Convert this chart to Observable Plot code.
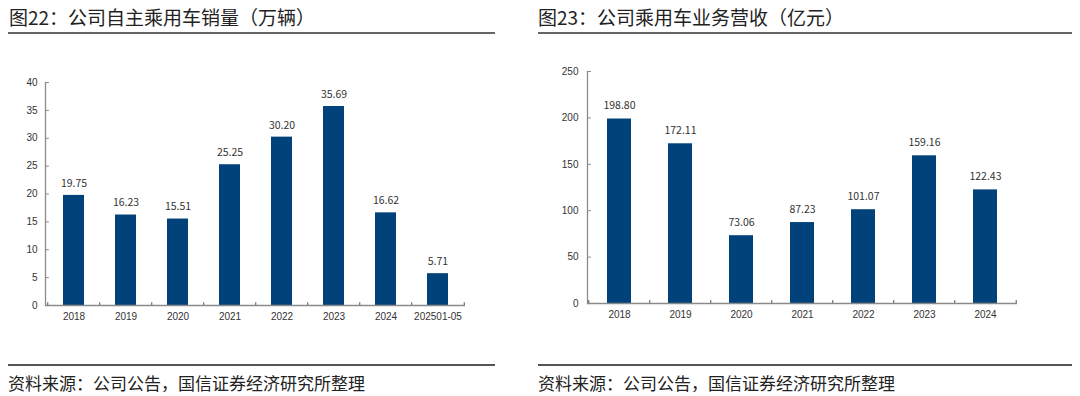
<!DOCTYPE html>
<html><head><meta charset="utf-8">
<script src="https://cdn.jsdelivr.net/npm/d3@7"></script>
<script src="https://cdn.jsdelivr.net/npm/@observablehq/plot@0.6"></script>
<style>
body{margin:0;width:1080px;height:396px;background:#fff;position:relative;overflow:hidden;font-family:"Noto Sans CJK SC",sans-serif;}
.title{position:absolute;top:3px;font-size:19px;color:#222;line-height:28px;white-space:nowrap}
.rule{position:absolute;height:2px;background:#666}
.srule{position:absolute;height:1.5px;background:#555;top:364px}
.src{position:absolute;top:372px;font-size:17px;color:#222;line-height:22px;white-space:nowrap}
.chart{position:absolute;top:40px}
</style></head><body>
<div class="title" style="left:9px">图22：公司自主乘用车销量（万辆）</div>
<div class="rule" style="left:8px;top:32px;width:487px"></div>
<div class="chart" id="c1" style="left:8px"></div>
<div class="srule" style="left:8px;width:487px"></div>
<div class="src" style="left:8px">资料来源：公司公告，国信证券经济研究所整理</div>

<div class="title" style="left:538px">图23：公司乘用车业务营收（亿元）</div>
<div class="rule" style="left:538px;top:32px;width:534px"></div>
<div class="chart" id="c2" style="left:538px"></div>
<div class="srule" style="left:538px;width:534px"></div>
<div class="src" style="left:538px">资料来源：公司公告，国信证券经济研究所整理</div>
<script>
const salesCategories = ["2018","2019","2020","2021","2022","2023","2024","202501-05"];
const salesValues = [19.75,16.23,15.51,25.25,30.20,35.69,16.62,5.71];
const salesTicks = [0,5,10,15,20,25,30,35,40];

const revenueCategories = ["2018","2019","2020","2021","2022","2023","2024"];
const revenueValues = [198.80,172.11,73.06,87.23,101.07,159.16,122.43];
const revenueTicks = [0,50,100,150,200,250];

const BAR = "#02427A";
const AXIS = "#8a8a8a";

function makeChart(cats, vals, ticks, o) {
  const data = cats.map((c, i) => ({cat: c, val: vals[i]}));
  const n = cats.length;
  const step = (o.width - o.ml - o.mr) / n;
  const ymax = ticks[ticks.length - 1];
  const tickShape = {draw(ctx, l) { ctx.moveTo(0, 0); ctx.lineTo(0, -l); }};
  return Plot.plot({
    width: o.width, height: o.height,
    marginLeft: o.ml, marginRight: o.mr, marginTop: o.mt, marginBottom: o.mb,
    style: {fontFamily: "'Liberation Sans', Arial, sans-serif", color: "#333", background: "#fff"},
    x: {domain: cats, paddingInner: 0.6, paddingOuter: 0.3, label: null},
    y: {domain: [0, ymax], label: null},
    marks: [
      Plot.barY(data, {x: "cat", y: "val", fill: BAR}),
      Plot.text(data, {x: "cat", y: "val", text: d => d.val.toFixed(2), dy: o.labelDy, fontSize: 10.5, fill: "#333", fontFamily: "'Noto Sans CJK SC', sans-serif"}),
      Plot.frame({anchor: "left", stroke: AXIS, strokeWidth: 1.3}),
      Plot.ruleY([0], {stroke: AXIS, strokeWidth: 1.3}),
      Plot.vector(ticks, {y: d => d, frameAnchor: "left", rotate: 90, length: 3, anchor: "start", shape: tickShape, stroke: AXIS, strokeWidth: 1}),
      Plot.ruleX(cats, {x: d => d, dx: -step / 2, y1: 0, y2: o.tickLen, stroke: "#555"}),
      Plot.ruleX([cats[n - 1]], {x: d => d, dx: step / 2, y1: 0, y2: o.tickLen, stroke: "#555"}),
      Plot.axisY(ticks, {tickSize: 0, tickPadding: o.yPad, fontSize: 10, fill: "#333", label: null}),
      Plot.axisX({tickSize: 0, tickPadding: 7, fontSize: 10, fill: "#333", label: null})
    ]
  });
}

document.getElementById("c1").append(makeChart(salesCategories, salesValues, salesTicks,
  {width: 488, height: 320, ml: 37, mr: 31, mt: 42, mb: 55, labelDy: -12, tickLen: 0.5, yPad: 8}));
document.getElementById("c2").append(makeChart(revenueCategories, revenueValues, revenueTicks,
  {width: 534, height: 320, ml: 49, mr: 55, mt: 31, mb: 57, labelDy: -13, tickLen: 3.2, yPad: 9}));
</script>
</body></html>
